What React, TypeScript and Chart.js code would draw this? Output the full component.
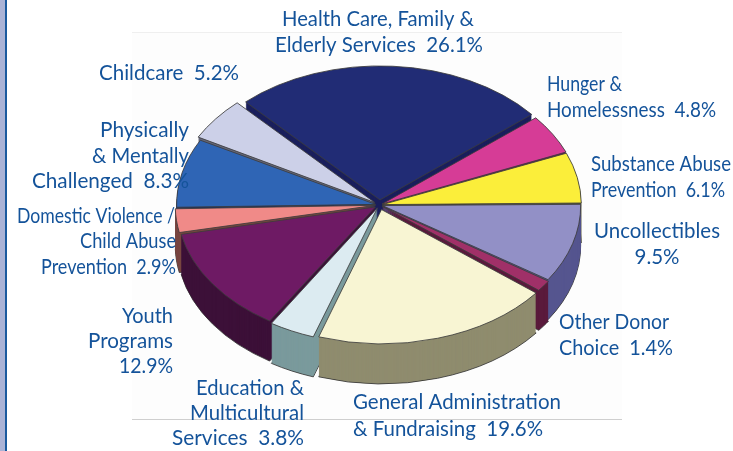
import React, { useEffect, useRef } from "react";
import { Chart, registerables } from "chart.js";

Chart.register(...registerables);

const categories = [
  "Health Care, Family & Elderly Services",
  "Hunger & Homelessness",
  "Substance Abuse Prevention",
  "Uncollectibles",
  "Other Donor Choice",
  "General Administration & Fundraising",
  "Education & Multicultural Services",
  "Youth Programs",
  "Domestic Violence / Child Abuse Prevention",
  "Physically & Mentally Challenged",
  "Childcare",
];
const values = [26.1, 4.8, 6.1, 9.5, 1.4, 19.6, 3.8, 12.9, 2.9, 8.3, 5.2];
const topColors = ["#212c75", "#d63c96", "#fbee3a", "#9290c6", "#a03068", "#f8f5d3", "#dcebf1", "#6e1a64", "#f08a88", "#2f65b5", "#ccd0e8"];
const sideColors = ["#1a1f5c", "#6b1e55", "#55523a", "#55558f", "#5a1a3c", "#8f8c6e", "#7a9a9c", "#3c1038", "#784540", "#1e2f60", "#66687a"];
const explode = [30, 12, 12, 12, 12, 28, 18, 20, 16, 16, 24];

const labelLines = [
  "Health Care, Family &", "Elderly Services  26.1%", "Childcare  5.2%", "Physically", "& Mentally", "Challenged  8.3%",
  "Domestic Violence /", "Child Abuse", "Prevention  2.9%", "Youth", "Programs", "12.9%",
  "Education &", "Multicultural", "Services  3.8%", "General Administration", "& Fundraising  19.6%",
  "Other Donor", "Choice  1.4%", "Uncollectibles", "9.5%", "Substance Abuse", "Prevention  6.1%", "Hunger &", "Homelessness  4.8%",
];
const labelPlace: [number, number, CanvasTextAlign, number][] = [
  [378, 26, "center", 192], [379, 52, "center", 208], [239, 80, "right", 140], [189, 137, "right", 89], [189, 163, "right", 97], [189, 188, "right", 157],
  [175, 223, "right", 158], [176, 248, "right", 96], [176, 274, "right", 135], [173, 323, "right", 51], [173, 348, "right", 85], [173, 373, "right", 54],
  [304, 395, "right", 108], [304, 420, "right", 114], [304, 445, "right", 132], [353, 409, "left", 208], [353, 436, "left", 190],
  [559, 329, "left", 110], [559, 355, "left", 114], [657, 238, "center", 126], [657, 264, "center", 45], [591, 171, "left", 140], [591, 197, "left", 134], [547, 91, "left", 75], [547, 117, "left", 169],
];

const SQUASH = 0.68;
const CENTER_Y = 205;
const DEPTH = 40;

const pie3d = {
  id: "pie3d",
  beforeDraw(chart: any) {
    const c = chart.ctx;
    c.save();
    c.fillStyle = "#fdfdfd";
    c.fillRect(132, 32, 490, 387);
    c.fillStyle = "#efefef";
    c.fillRect(132, 32, 490, 1);
    c.fillStyle = "#cfcfcf";
    c.fillRect(132, 419, 490, 1);
    c.fillStyle = "#aab3d6";
    c.fillRect(0, 0, 5, 451);
    c.fillStyle = "#1a5a9e";
    c.fillRect(5, 0, 2, 451);
    c.restore();
  },
  beforeDatasetsDraw(chart: any) {
    const c = chart.ctx;
    const arcs: any[] = chart.getDatasetMeta(0).data;
    const midY = (chart.chartArea.top + chart.chartArea.bottom) / 2;
    const order = arcs.map((_, i) => i).sort((a, b) => {
      const m = (x: any) => Math.sin((x.startAngle + x.endAngle) / 2);
      return m(arcs[a]) - m(arcs[b]);
    });
    const drawAt = (arc: any, d: number, fill: string, stroke: string, bw: number) => {
      const fake = Object.create(arc);
      fake.options = { ...arc.options, backgroundColor: fill, borderColor: stroke, borderWidth: bw };
      c.save();
      c.translate(0, CENTER_Y + d);
      c.scale(1, SQUASH);
      c.translate(0, -midY);
      arc.constructor.prototype.draw.call(fake, c);
      c.restore();
    };
    for (const i of order) {
      const arc = arcs[i];
      drawAt(arc, DEPTH, sideColors[i], "#333333", 1);
      for (let d = DEPTH - 1; d > 0; d--) drawAt(arc, d, sideColors[i], sideColors[i], 0);
      drawAt(arc, 0, topColors[i], "#3c3c3c", 1);
    }
    return false;
  },
  afterDraw(chart: any) {
    const c = chart.ctx;
    c.save();
    c.font = '21px "Lato"';
    c.fillStyle = "#14539a";
    c.textBaseline = "alphabetic";
    labelLines.forEach((t, i) => {
      const [x, y, a, w] = labelPlace[i];
      c.textAlign = a;
      c.fillText(t, x, y, w);
    });
    c.restore();
  },
};

export default function App() {
  const ref = useRef<HTMLCanvasElement>(null);
  useEffect(() => {
    const chart = new Chart(ref.current as HTMLCanvasElement, {
      type: "pie",
      data: {
        labels: categories,
        datasets: [{ data: values, backgroundColor: topColors, offset: explode, borderWidth: 1, borderColor: "#3c3c3c" }],
      },
      options: {
        responsive: false,
        animation: false,
        events: [],
        rotation: -43,
        radius: 197,
        layout: { padding: { left: 26 } },
        plugins: { legend: { display: false }, tooltip: { enabled: false } },
      },
      plugins: [pie3d],
    } as any);
    return () => chart.destroy();
  }, []);
  return (
    <div style={{ position: "absolute", left: 0, top: 0 }}>
      <canvas ref={ref} width={733} height={451} style={{ display: "block" }} />
    </div>
  );
}
